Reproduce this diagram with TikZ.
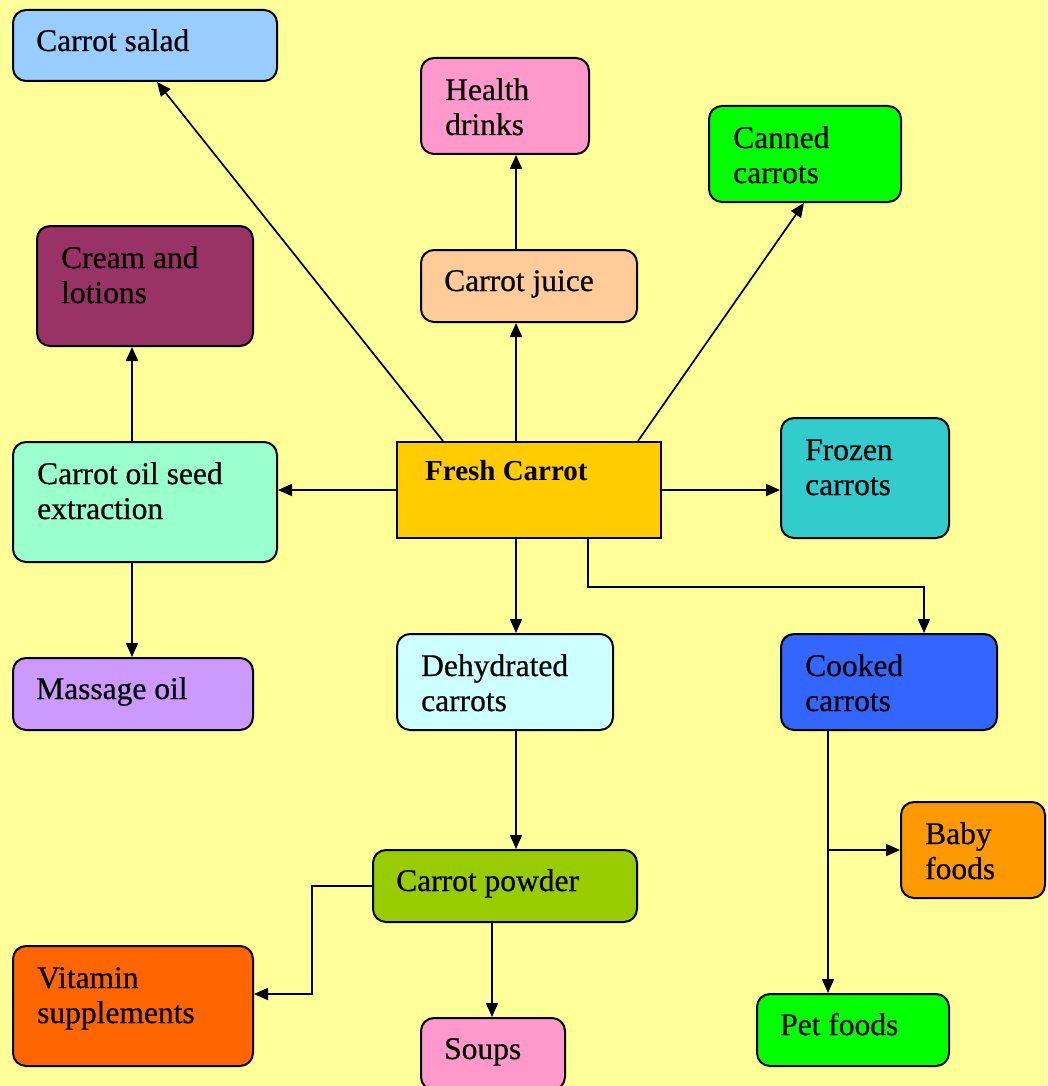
\documentclass[tikz,border=0pt]{standalone}
\usepackage{fontspec}
\setmainfont{Liberation Serif}
\newfontfamily\boxfont{Liberation Serif}[FakeBold=0.6]
\usetikzlibrary{arrows.meta,calc}
\definecolor{bgyellow}{HTML}{FFFF99}
\definecolor{cSalad}{HTML}{99CCFF}
\definecolor{cPink}{HTML}{FF99CC}
\definecolor{cGreen}{HTML}{00FF00}
\definecolor{cCream}{HTML}{993366}
\definecolor{cJuice}{HTML}{FFCC99}
\definecolor{cOil}{HTML}{99FFCC}
\definecolor{cFresh}{HTML}{FFCC00}
\definecolor{cFrozen}{HTML}{33CCCC}
\definecolor{cMassage}{HTML}{CC99FF}
\definecolor{cDehy}{HTML}{CCFFFF}
\definecolor{cCooked}{HTML}{3366FF}
\definecolor{cBaby}{HTML}{FF9900}
\definecolor{cPowder}{HTML}{99CC00}
\definecolor{cVit}{HTML}{FF6600}
\tikzset{
  cbox/.style={draw=black, line width=2pt, rounded corners=13pt, anchor=north west, inner sep=0pt},
  sqbox/.style={draw=black, line width=2pt, anchor=north west, inner sep=0pt},
  txt/.style={anchor=base west, inner sep=0pt, align=left, font=\fontsize{31.5}{35}\boxfont},
  arr/.style={line width=1.7pt, -{Triangle[length=14pt,width=12pt]}},
}
% one-line box
\newcommand\cbox[7]{%
  \node[cbox, fill=#6, minimum width=#4pt, minimum height=#5pt] (#1) at (#2,#3) {};
  \node[txt] (#1-t) at ({#2+24},{#3+42}) {#7};
}
% two-line box (base anchor is the last line's baseline)
\newcommand\cboxtwo[7]{%
  \node[cbox, fill=#6, minimum width=#4pt, minimum height=#5pt] (#1) at (#2,#3) {};
  \node[txt] (#1-t) at ({#2+25},{#3+43+35}) {#7};
}
\begin{document}
\begin{tikzpicture}[x=1pt,y=-1pt]
\fill[bgyellow] (0,0) rectangle (1047,1086);
\useasboundingbox (0,0) rectangle (1047,1086);
\cbox{salad}{12}{9}{264}{71}{cSalad}{Carrot salad}
\cboxtwo{health}{420}{57}{168}{96}{cPink}{Health\\drinks}
\cboxtwo{canned}{708}{105}{192}{96}{cGreen}{Canned\\carrots}
\cboxtwo{cream}{36}{225}{216}{120}{cCream}{Cream and\\lotions}
\cbox{juice}{420}{249}{216}{72}{cJuice}{Carrot juice}
\cboxtwo{oil}{12}{441}{264}{120}{cOil}{Carrot oil seed\\extraction}
\node[sqbox, fill=cFresh, minimum width=264pt, minimum height=96pt] (fresh) at (396,441) {};
\node[txt, font=\fontsize{29}{35}\rmfamily\bfseries] (fresh-t) at (425,480) {Fresh Carrot};
\cboxtwo{frozen}{780}{417}{168}{120}{cFrozen}{Frozen\\carrots}
\cbox{massage}{12}{657}{240}{72}{cMassage}{Massage oil}
\cboxtwo{dehy}{396}{633}{216}{96}{cDehy}{Dehydrated\\carrots}
\cboxtwo{cooked}{780}{633}{216}{96}{cCooked}{Cooked\\carrots}
\cboxtwo{baby}{900}{801}{144}{96}{cBaby}{Baby\\foods}
\cbox{powder}{372}{849}{264}{72}{cPowder}{Carrot powder}
\cboxtwo{vit}{12}{945}{240}{120}{cVit}{Vitamin\\supplements}
\cbox{soups}{420}{1017}{144}{72}{cPink}{Soups}
\cbox{pet}{756}{993}{192}{72}{cGreen}{Pet foods}
% connectors
\draw[arr] ([xshift=47pt]fresh.north west) -- ([xshift=145pt]salad.south west);
\draw[arr] ([xshift=120pt]fresh.north west) -- ([xshift=96pt]juice.south west);
\draw[arr] ([xshift=96pt]juice.north west) -- ([xshift=96pt]health.south west);
\draw[arr] ([xshift=-24pt]fresh.north east) -- ([xshift=96pt]canned.south west);
\draw[arr] (fresh.west) -- (fresh.west -| oil.east);
\draw[arr] (fresh.east) -- (fresh.east -| frozen.west);
\coordinate (oilx) at ([xshift=120pt]oil.north west);
\draw[arr] (oilx) -- (oilx |- cream.south);
\coordinate (oilb) at ([xshift=120pt]oil.south west);
\draw[arr] (oilb) -- (oilb |- massage.north);
\coordinate (freshb) at ([xshift=120pt]fresh.south west);
\draw[arr] (freshb) -- (freshb |- dehy.north);
\draw[arr] ([xshift=192pt]fresh.south west) -- ++(0,48) -| ([xshift=144pt]cooked.north west);
\coordinate (dehyb) at ([xshift=120pt]dehy.south west);
\draw[arr] (dehyb) -- (dehyb |- powder.north);
\draw[arr] (powder.west) -- ++(-60,0) |- ([yshift=12pt]vit.east);
\coordinate (powb) at ([xshift=120pt]powder.south west);
\draw[arr] (powb) -- (powb |- soups.north);
\coordinate (cb) at ([xshift=48pt]cooked.south west);
\draw[arr] (cb) -- (cb |- pet.north);
\draw[arr] (cb |- baby.west) -- (baby.west);
\end{tikzpicture}
\end{document}
